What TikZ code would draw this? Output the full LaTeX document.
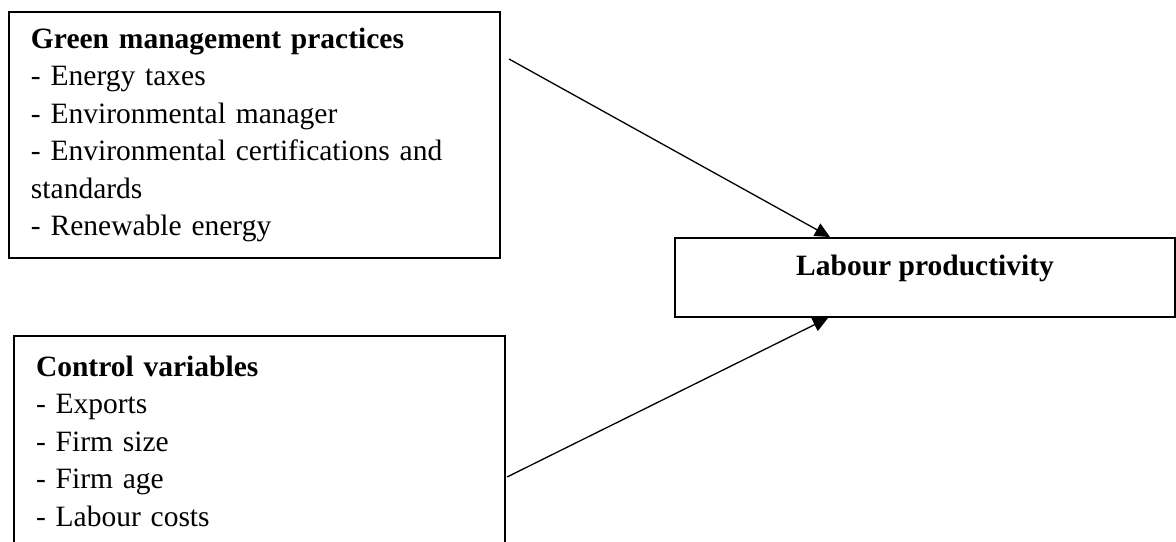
\documentclass[tikz,border=0pt]{standalone}
\usepackage{fontspec}
\setmainfont{Liberation Serif}
\usetikzlibrary{arrows.meta}
\begin{document}
\begin{tikzpicture}[x=0.5pt, y=-0.5pt,
	listbox/.style={draw, line width=1pt, anchor=north west, align=left, text width=223.5pt, inner xsep=11pt, inner ysep=0pt, font=\fontsize{14.75pt}{18.75pt}\selectfont},
	resultbox/.style={draw, line width=1pt, anchor=north west, minimum width=250pt, minimum height=39.5pt, text height=10pt, text depth=12.5pt, font=\fontsize{14.75pt}{18.75pt}\selectfont\bfseries},
	link/.style={-{Triangle[length=7.5pt,width=7pt]}, line width=0.65pt}]
	\clip (0,0) rectangle (1176,541);
	%green management
	\node[listbox, minimum height=123pt] (gmp) at (8,11) {\textbf{Green management practices}\\- Energy taxes\\- Environmental manager\\- Environmental certifications and\\standards\\- Renewable energy};
	%controls
	\node[listbox, minimum height=105pt] (cv) at (13,335) {\textbf{Control variables}\\- Exports\\- Firm size\\- Firm age\\- Labour costs};
	%productivity
	\node[resultbox] (lp) at (674,237) {Labour productivity};
	%arrows
	\coordinate (gmpout) at ([shift={(8,48)}]gmp.north east);
	\coordinate (cvout) at ([shift={(1,142)}]cv.north east);
	\draw[link] (gmpout) -- ([shift={(156,0)}]lp.north west);
	\draw[link] (cvout) -- ([shift={(154,0)}]lp.south west);
\end{tikzpicture}
\end{document}
